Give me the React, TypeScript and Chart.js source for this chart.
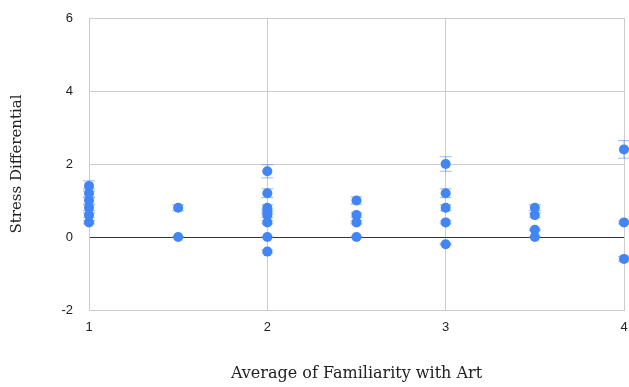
import React, { useEffect, useRef } from "react";
import { Chart, registerables } from "chart.js";

Chart.register(...registerables);

const familiarityLevels = [1, 1.5, 2, 2.5, 3, 3.5, 4];
const stressAt1 = [0.4, 0.6, 0.8, 1.0, 1.2, 1.4];
const stressAt15 = [0.8, 0];
const stressAt2 = [1.8, 1.2, 0.8, 0.7, 0.6, 0.4, 0, -0.4];
const stressAt25 = [1.0, 0.6, 0.4, 0];
const stressAt3 = [2.0, 1.2, 0.8, 0.4, -0.2];
const stressAt35 = [0.8, 0.6, 0.2, 0];
const stressAt4 = [2.4, 0.4, -0.6];
const stressGroups = [stressAt1, stressAt15, stressAt2, stressAt25, stressAt3, stressAt35, stressAt4];
const yTicks = [-2, 0, 2, 4, 6];
const xTicks = [1, 2, 3, 4];
const errorPercent = 0.1;

const points = familiarityLevels.flatMap((x, i) => stressGroups[i].map((y) => ({ x, y })));

const errorBarPlugin = {
  id: "errorBars",
  beforeDatasetsDraw(chart: any) {
    const ctx = chart.ctx;
    const xs = chart.scales.x;
    const ys = chart.scales.y;
    ctx.save();
    ctx.strokeStyle = "rgba(66,133,244,0.55)";
    ctx.lineWidth = 1;
    points.forEach((p) => {
      const px = xs.getPixelForValue(p.x);
      const hi = ys.getPixelForValue(p.y + Math.abs(p.y) * errorPercent);
      const lo = ys.getPixelForValue(p.y - Math.abs(p.y) * errorPercent);
      ctx.beginPath();
      ctx.moveTo(px, hi);
      ctx.lineTo(px, lo);
      ctx.moveTo(px - 6, hi);
      ctx.lineTo(px + 6, hi);
      ctx.moveTo(px - 6, lo);
      ctx.lineTo(px + 6, lo);
      ctx.stroke();
    });
    ctx.restore();
  },
};

export default function App() {
  const ref = useRef<HTMLCanvasElement>(null);
  useEffect(() => {
    if (!ref.current) return;
    const chart = new Chart(ref.current, {
      type: "scatter",
      data: {
        datasets: [
          {
            data: points,
            backgroundColor: "#4285F4",
            borderWidth: 0,
            pointRadius: 5,
            pointHoverRadius: 5,
            clip: false,
          },
        ],
      },
      plugins: [errorBarPlugin],
      options: {
        animation: false,
        responsive: false,
        layout: { padding: { top: 18, right: 5, left: 0, bottom: 0 } },
        plugins: { legend: { display: false }, tooltip: { enabled: false } },
        scales: {
          x: {
            type: "linear",
            min: 1,
            max: 4,
            afterBuildTicks: (s: any) => {
              s.ticks = xTicks.map((v) => ({ value: v }));
            },
            afterFit: (s: any) => {
              s.height = 77;
              s.paddingLeft = 0;
              s.paddingRight = 0;
            },
            ticks: {
              padding: 10,
              color: "#222",
              font: { family: "'Liberation Sans', Arial, sans-serif", size: 13 },
            },
            grid: { color: "#cccccc", drawTicks: false },
            border: { color: "#cccccc" },
            title: {
              display: true,
              text: "Average of Familiarity with Art",
              color: "#222",
              font: { family: "'DejaVu Serif', serif", size: 16 },
              padding: { top: 0, bottom: 4 },
            },
          },
          y: {
            type: "linear",
            min: -2,
            max: 6,
            afterBuildTicks: (s: any) => {
              s.ticks = yTicks.map((v) => ({ value: v }));
            },
            afterFit: (s: any) => {
              s.width = 89;
              s.paddingTop = 0;
              s.paddingBottom = 0;
            },
            ticks: {
              padding: 16,
              color: "#222",
              font: { family: "'Liberation Sans', Arial, sans-serif", size: 13 },
            },
            grid: {
              color: (c: any) => (c.tick && c.tick.value === 0 ? "#333333" : "#cccccc"),
              drawTicks: false,
            },
            border: { color: "#cccccc" },
            title: {
              display: true,
              text: "Stress Differential",
              color: "#222",
              font: { family: "'DejaVu Serif', serif", size: 15 },
              padding: { top: 8, bottom: 0 },
            },
          },
        },
      },
    } as any);
    return () => chart.destroy();
  }, []);
  return (
    <div style={{ position: "absolute", left: 0, top: 0, width: 629, height: 387, background: "#fff" }}>
      <canvas ref={ref} width={629} height={387} style={{ display: "block" }} />
    </div>
  );
}
